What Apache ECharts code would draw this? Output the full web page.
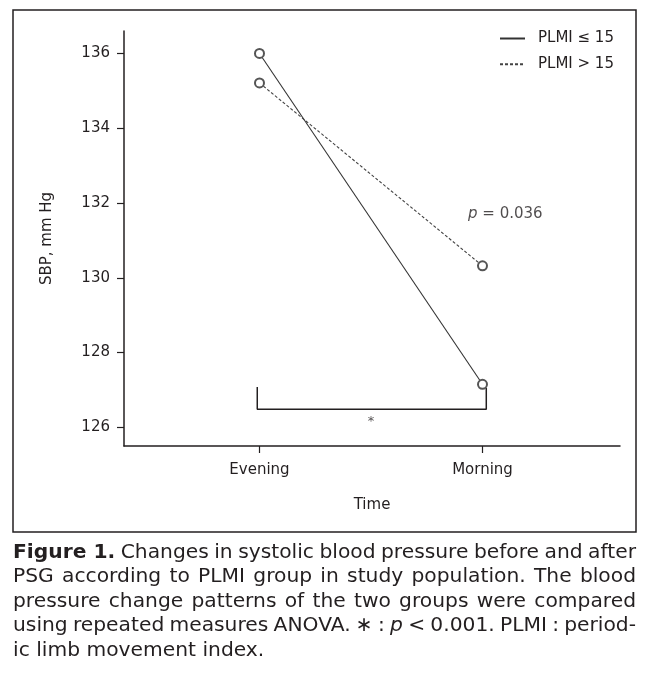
<!DOCTYPE html>
<html>
<head>
<meta charset="utf-8">
<script src="https://cdn.jsdelivr.net/npm/echarts@6.0.0/dist/echarts.min.js"></script>
<style>
html,body{margin:0;padding:0;background:#fff;}
#chart{width:649px;height:673px;}
</style>
</head>
<body>
<div id="chart"></div>
<script>
// ---- data ----
const categories = ['Evening', 'Morning'];
const categoryX = [0, 1];
const seriesNames = ['PLMI \u2264 15', 'PLMI > 15'];
const plmiLow = [136.0, 127.15];
const plmiHigh = [135.21, 130.32];
const yTicks = [126, 128, 130, 132, 134, 136];
const xAxisName = 'Time';
const yAxisName = 'SBP, mm Hg';
// significance bracket (data coordinates)
const bracketX = [-0.01, 1.017];
const bracketTop = [127.08, 127.05];
const bracketBottom = 126.48;
const pAnnotation = { x: 0.935, y: 131.69, text: '0.036' };
const starAnnotation = { x: 0.5, y: 126.14, text: '*' };
const captionLines = [
  [{t: 'Figure 1.', w: 'bold'}, {t: 'Changes in systolic blood pressure before and after'}],
  [{t: 'PSG according to PLMI group in study population. The blood'}],
  [{t: 'pressure change patterns of the two groups were compared'}],
  [{t: 'using repeated measures ANOVA. \u2217 :'}, {t: 'p', s: 'italic'}, {t: '< 0.001. PLMI : period-'}],
  [{t: 'ic limb movement index.'}]
];

// ---- chart ----
const FONT = '"DejaVu Sans", sans-serif';
const INK = '#231f20';
const chart = echarts.init(document.getElementById('chart'), null, {renderer: 'canvas'});

// caption layout (justified)
function buildCaption() {
  const cv = document.createElement('canvas');
  const ctx = cv.getContext('2d');
  const left = 13, right = 636, avail = right - left;
  const y0 = 552.5, lh = 24.5;
  let size = 20.5;
  function tokens(line) {
    const out = [];
    line.forEach(seg => {
      if (seg.w === 'bold') { out.push({t: seg.t, w: 'bold', s: 'normal'}); return; }
      seg.t.split(' ').filter(Boolean).forEach(w => out.push({t: w, w: 'normal', s: seg.s || 'normal'}));
    });
    return out;
  }
  function width(tok, sz) {
    ctx.font = tok.s + ' ' + tok.w + ' ' + sz + 'px ' + FONT;
    return ctx.measureText(tok.t).width;
  }
  const toks = captionLines.map(tokens);
  for (;;) {
    ctx.font = 'normal normal ' + size + 'px ' + FONT;
    const sp = ctx.measureText(' ').width * 0.8;
    let maxW = 0;
    toks.forEach(ts => {
      let w = 0; ts.forEach(t => w += width(t, size)); w += sp * (ts.length - 1);
      maxW = Math.max(maxW, w);
    });
    if (maxW <= avail || size < 10) break;
    size -= 0.25;
  }
  ctx.font = 'normal normal ' + size + 'px ' + FONT;
  const sp = ctx.measureText(' ').width;
  const els = [];
  toks.forEach((ts, li) => {
    const ws = ts.map(t => width(t, size));
    const total = ws.reduce((a, b) => a + b, 0);
    const last = li === toks.length - 1;
    const gap = last ? sp : (avail - total) / (ts.length - 1);
    let x = left;
    ts.forEach((t, i) => {
      els.push({
        type: 'text', x: x, y: y0 + li * lh, silent: true,
        style: {text: t.t, fontSize: size, fontFamily: FONT, fontWeight: t.w, fontStyle: t.s,
                fill: INK, textVerticalAlign: 'middle', textAlign: 'left'}
      });
      x += ws[i] + gap;
    });
  });
  return els;
}

const option = {
  animation: false,
  backgroundColor: '#fff',
  grid: {left: 124, right: 29, top: 31, bottom: 227, containLabel: false},
  legend: {
    data: seriesNames,
    orient: 'vertical',
    left: 499, top: 31, padding: 0,
    itemWidth: 25, itemHeight: 14, itemGap: 10.7,
    itemStyle: {opacity: 0},
    textStyle: {fontSize: 15, fontFamily: FONT, color: INK, lineHeight: 14, padding: [0, 0, 0, 8]},
    selectedMode: false
  },
  xAxis: {
    type: 'value', min: -0.6076, max: 1.6166,
    name: xAxisName, nameLocation: 'middle', nameGap: 52,
    nameTextStyle: {fontSize: 15, fontFamily: FONT, color: INK},
    axisLine: {show: true, onZero: false, lineStyle: {color: INK, width: 1.5}},
    axisTick: {show: true, length: 7, lineStyle: {color: INK, width: 1.2}, customValues: categoryX},
    axisLabel: {show: true, margin: 17, fontSize: 15, fontFamily: FONT, color: INK,
      customValues: categoryX, formatter: v => categories[categoryX.indexOf(v)] ?? ''},
    splitLine: {show: false}
  },
  yAxis: {
    type: 'value', min: 125.5, max: 136.6,
    name: yAxisName, nameLocation: 'middle', nameGap: 69, nameRotate: 90,
    nameTextStyle: {fontSize: 15, fontFamily: FONT, color: INK},
    axisLine: {show: true, onZero: false, lineStyle: {color: INK, width: 1.5}},
    axisTick: {show: true, length: 7, lineStyle: {color: INK, width: 1.2}, customValues: yTicks},
    axisLabel: {show: true, margin: 14, fontSize: 15, fontFamily: FONT, color: INK, customValues: yTicks},
    splitLine: {show: false}
  },
  series: [
    {
      name: seriesNames[0], type: 'line',
      data: categoryX.map((x, i) => [x, plmiLow[i]]),
      symbol: 'emptyCircle', symbolSize: 9, showSymbol: true,
      lineStyle: {color: '#333', width: 1.1, type: 'solid'},
      itemStyle: {color: '#555', borderColor: '#555', borderWidth: 1},
      z: 3
    },
    {
      name: seriesNames[1], type: 'line',
      data: categoryX.map((x, i) => [x, plmiHigh[i]]),
      symbol: 'emptyCircle', symbolSize: 9, showSymbol: true,
      lineStyle: {color: '#444', width: 1.1, type: [3, 2]},
      itemStyle: {color: '#555', borderColor: '#555', borderWidth: 1},
      z: 3
    },
    {
      name: 'bracket', type: 'line', silent: true,
      data: [[bracketX[0], bracketTop[0]], [bracketX[0], bracketBottom], [bracketX[1], bracketBottom], [bracketX[1], bracketTop[1]]],
      symbol: 'none', lineStyle: {color: INK, width: 1.5}, z: 2
    },
    {
      name: 'annotations', type: 'scatter', silent: true, symbolSize: 0,
      data: [
        {value: [pAnnotation.x, pAnnotation.y], label: {show: true, position: 'right', distance: 0,
          formatter: '{i|p} = ' + pAnnotation.text,
          fontSize: 15, fontFamily: FONT, color: INK,
          rich: {i: {fontStyle: 'italic', fontSize: 15, fontFamily: FONT, color: INK}}}},
        {value: [starAnnotation.x, starAnnotation.y], label: {show: true, position: 'inside',
          formatter: starAnnotation.text, fontSize: 13, fontFamily: FONT, color: INK}}
      ]
    }
  ],
  graphic: [
    {type: 'rect', silent: true, shape: {x: 13, y: 10, width: 623, height: 522},
     style: {fill: 'none', stroke: INK, lineWidth: 1.5}, z: -1}
  ].concat(buildCaption())
};
chart.setOption(option);
</script>
</body>
</html>
